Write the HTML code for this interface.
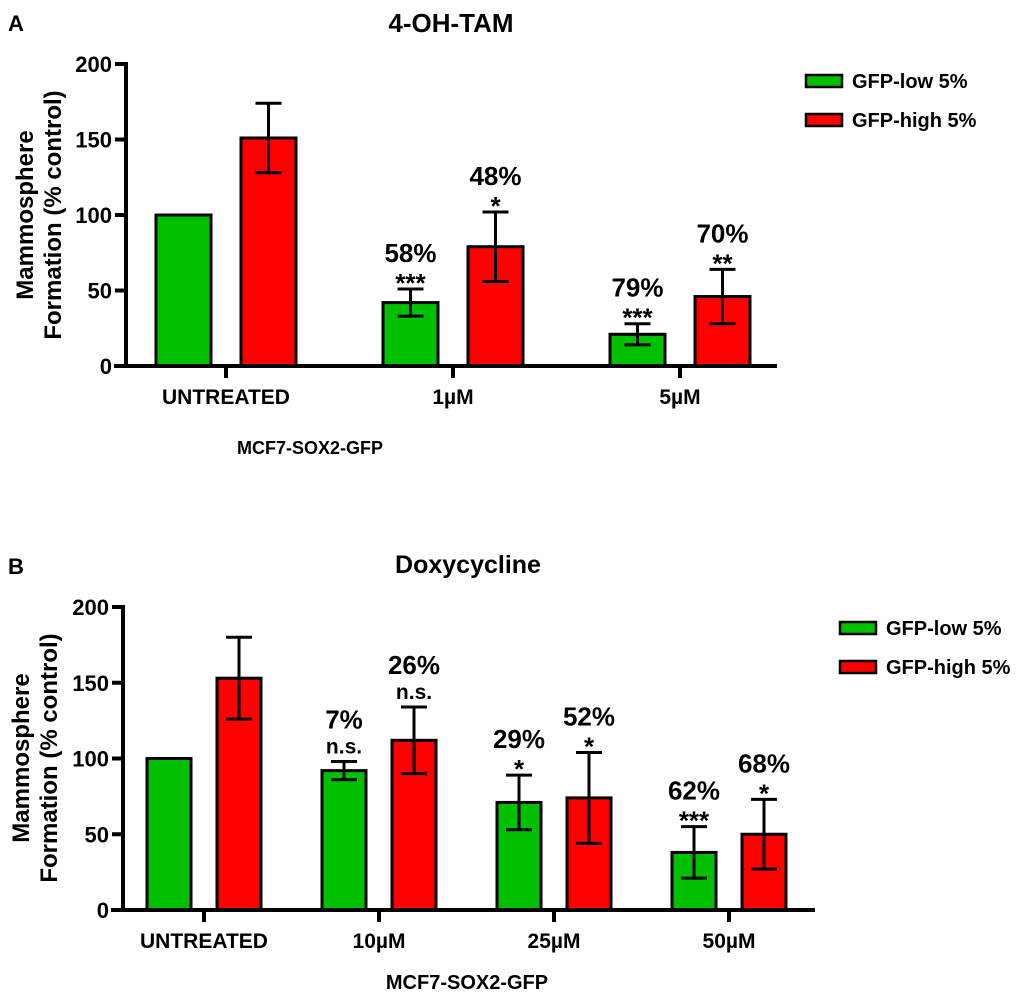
<!DOCTYPE html>
<html><head><meta charset="utf-8"><style>
body{margin:0;background:#fff}
svg{display:block;font-family:"Liberation Sans",Arial,sans-serif;font-weight:bold}
</style></head><body>
<svg id="s" width="1020" height="992" viewBox="0 0 1020 992" xmlns="http://www.w3.org/2000/svg">
<text x="8" y="31" font-size="22">A</text>
<text x="451" y="32" font-size="26" text-anchor="middle">4-OH-TAM</text>
<text x="310" y="454" font-size="18" text-anchor="middle">MCF7-SOX2-GFP</text>
<text transform="translate(33,215) rotate(-90)" font-size="24" text-anchor="middle">Mammosphere</text>
<text transform="translate(61,215) rotate(-90)" font-size="24" text-anchor="middle">Formation (% control)</text>
<text x="8" y="574" font-size="22">B</text>
<text x="468" y="573" font-size="25" text-anchor="middle">Doxycycline</text>
<text x="467" y="989" font-size="20" text-anchor="middle">MCF7-SOX2-GFP</text>
<text transform="translate(29,758) rotate(-90)" font-size="24" text-anchor="middle">Mammosphere</text>
<text transform="translate(57,758) rotate(-90)" font-size="24" text-anchor="middle">Formation (% control)</text>
</svg>
<script>
const aCats=["UNTREATED","1µM","5µM"];
const aLow=[100,42,21];
const aLowErr=[0,9,7];
const aHigh=[151,79,46];
const aHighErr=[23,23,18];
const aLowPct=["","58%","79%"];
const aLowSig=["","***","***"];
const aHighPct=["","48%","70%"];
const aHighSig=["","*","**"];
const bCats=["UNTREATED","10µM","25µM","50µM"];
const bLow=[100,92,71,38];
const bLowErr=[0,6,18,17];
const bHigh=[153,112,74,50];
const bHighErr=[27,22,30,23];
const bLowPct=["","7%","29%","62%"];
const bLowSig=["","n.s.","*","***"];
const bHighPct=["","26%","52%","68%"];
const bHighSig=["","n.s.","*","*"];
const yTicks=[0,50,100,150,200];
const legendLabels=["GFP-low 5%","GFP-high 5%"];

const NS="http://www.w3.org/2000/svg";
const svg=document.getElementById('s');
function mk(tag,at,txt){const e=document.createElementNS(NS,tag);for(const k in at)e.setAttribute(k,at[k]);if(txt!==undefined)e.textContent=txt;svg.appendChild(e);return e;}

function panel(p){
  const y=v=>p.y0-(v/200)*(p.y0-p.y200);
  const x=i=>p.c0+i*p.step;
  let e=mk('line',{x1:p.ax,y1:p.y200-2,x2:p.ax,y2:p.y0+2,stroke:'#000','stroke-width':4});
  
  
  yTicks.forEach(t=>{
    let l=mk('line',{x1:p.ax-11,y1:y(t),x2:p.ax,y2:y(t),stroke:'#000','stroke-width':4});
    
    
    let tx=mk('text',{x:p.ax-14,y:y(t)+8,'font-size':22,'text-anchor':'end'},t);
    
    
  });
  p.cats.forEach((c,i)=>{
    const bars=[[p.low[i],p.lowErr[i],'#00c000',-p.off,p.lowPct[i],p.lowSig[i],'low'],[p.high[i],p.highErr[i],'#ff0000',p.off,p.highPct[i],p.highSig[i],'high']];
    bars.forEach(b=>{
      const cx=x(i)+b[3];
      let r=mk('rect',{x:cx-p.bw/2,y:y(b[0]),width:p.bw,height:p.y0-y(b[0]),fill:b[2],stroke:'#000','stroke-width':3});
      
      
      let top=y(b[0]);
      if(b[1]>0){
        const hi=y(b[0]+b[1]),lo=y(b[0]-b[1]);
        let g=mk('path',{d:`M${cx},${hi}V${lo}M${cx-13},${hi}H${cx+13}M${cx-13},${lo}H${cx+13}`,stroke:'#000','stroke-width':3,fill:'none'});
        
        
        top=hi;
      }
      if(b[5]){
        const star=b[5].indexOf('*')>=0;
        let s=mk('text',{x:cx,y:top-(star?-3:8),'font-size':star?26:21,'text-anchor':'middle'},b[5]);
        
        
        let q=mk('text',{x:cx,y:top-(star?27:33),'font-size':26,'text-anchor':'middle'},b[4]);
        
        
      }
    });
    let t=mk('line',{x1:x(i),y1:p.y0,x2:x(i),y2:p.y0+12,stroke:'#000','stroke-width':4});
    
    
    let l=mk('text',{x:x(i),y:p.y0+38,'font-size':21,'text-anchor':'middle'},c);
    
    
  });
  e=mk('line',{x1:p.ax-12,y1:p.y0,x2:p.axEnd,y2:p.y0,stroke:'#000','stroke-width':4});
  
  
  legendLabels.forEach((lab,j)=>{
    const ly=p.ly+j*p.lgap;
    let r=mk('rect',{x:p.lx,y:ly-6,width:36,height:12,fill:j?'#ff0000':'#00c000',stroke:'#000','stroke-width':2.5});
    
    
    let tx=mk('text',{x:p.lx+46,y:ly+7,'font-size':20},lab);
    
    
  });
}
panel({id:'a',cats:aCats,low:aLow,lowErr:aLowErr,high:aHigh,highErr:aHighErr,lowPct:aLowPct,lowSig:aLowSig,highPct:aHighPct,highSig:aHighSig,
  ax:126,y0:366,y200:64,c0:226,step:227,off:42.5,bw:55,axEnd:777,lx:806,ly:81,lgap:39});
panel({id:'b',cats:bCats,low:bLow,lowErr:bLowErr,high:bHigh,highErr:bHighErr,lowPct:bLowPct,lowSig:bLowSig,highPct:bHighPct,highSig:bHighSig,
  ax:123,y0:910,y200:607,c0:204,step:175,off:35,bw:44,axEnd:815,lx:840,ly:628,lgap:39});
</script>
</body></html>
